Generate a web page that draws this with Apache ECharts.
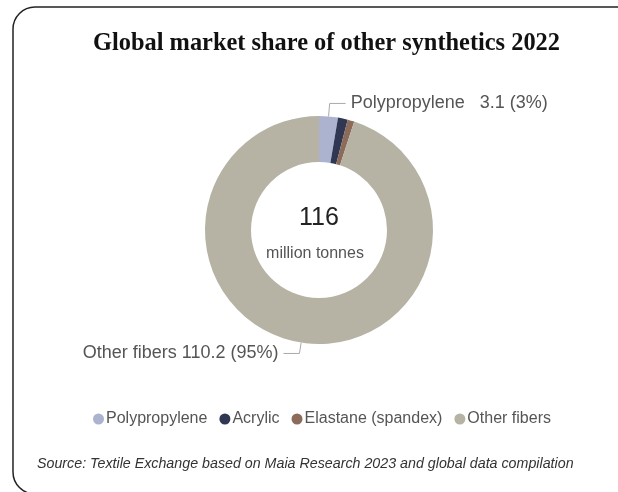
<!DOCTYPE html>
<html>
<head>
<meta charset="utf-8">
<script src="https://cdn.jsdelivr.net/npm/echarts@6/dist/echarts.min.js"></script>
<style>
  html, body { margin: 0; padding: 0; background: #fff; }
  #fiberChart { width: 618px; height: 492px; }
</style>
</head>
<body>
<div id="fiberChart"></div>
<script>
var categories = ['Polypropylene', 'Acrylic', 'Elastane (spandex)', 'Other fibers'];
var values = [3.1, 1.6, 1.1, 110.2];
var colors = ['#abb3cf', '#2f3752', '#8c6b5b', '#b6b3a4'];
var labelled = ['Polypropylene', 'Other fibers'];
var totalText = '116';
var unitText = 'million tonnes';

var fiberChart = echarts.init(document.getElementById('fiberChart'));

var pieData = [];
categories.forEach(function (name, i) {
    var on = labelled.indexOf(name) >= 0;
    var item = {
        name: name,
        value: values[i],
        itemStyle: { color: colors[i] },
        label: { show: on },
        labelLine: { show: on }
    };
    if (name === 'Polypropylene') {
        item.labelLine.length = 13;
        item.labelLine.length2 = 16;
    }
    if (name === 'Other fibers') {
        item.labelLine.length = 11;
        item.labelLine.length2 = 16;
    }
    pieData.push(item);
});

var option = {
    backgroundColor: '#fff',
    title: {
        text: 'Global market share of other synthetics 2022',
        left: 88,
        top: 27,
        textStyle: {
            fontFamily: 'Liberation Serif',
            fontWeight: 'bold',
            fontSize: 24.4,
            color: '#111'
        }
    },
    legend: {
        top: 406,
        left: 88,
        icon: 'circle',
        itemWidth: 11,
        itemHeight: 11,
        itemGap: 12,
        data: categories,
        textStyle: {
            fontFamily: 'Liberation Sans',
            fontSize: 16,
            color: '#555',
            padding: [0, 0, 0, -3]
        }
    },
    graphic: [
        {
            type: 'rect',
            silent: true,
            shape: { x: 13, y: 7, width: 800, height: 487, r: [22, 0, 0, 22] },
            style: { fill: 'none', stroke: '#222', lineWidth: 1.5 }
        },
        {
            type: 'text',
            left: 37,
            top: 457,
            style: {
                text: 'Source: Textile Exchange based on Maia Research 2023 and global data compilation',
                font: 'italic 14.25px "Liberation Sans"',
                fill: '#333'
            }
        },
        {
            type: 'text',
            silent: true,
            style: {
                x: 319,
                y: 218,
                text: totalText,
                align: 'center',
                verticalAlign: 'middle',
                font: '25px "Liberation Sans"',
                fill: '#222'
            }
        },
        {
            type: 'text',
            silent: true,
            style: {
                x: 315,
                y: 254,
                text: unitText,
                align: 'center',
                verticalAlign: 'middle',
                font: '16px "Liberation Sans"',
                fill: '#555'
            }
        }
    ],
    series: [
        {
            name: 'Other synthetics',
            type: 'pie',
            center: [319, 230],
            radius: [68, 114],
            startAngle: 90,
            clockwise: true,
            avoidLabelOverlap: false,
            silent: true,
            label: {
                fontFamily: 'Liberation Sans',
                fontSize: 18,
                color: '#555',
                formatter: function (p) {
                    var pct = Math.round(p.percent) + '%';
                    if (p.name === 'Polypropylene') {
                        return p.name + '   ' + p.value + ' (' + pct + ')';
                    }
                    return p.name + ' ' + p.value + ' (' + pct + ')';
                }
            },
            labelLine: {
                lineStyle: { color: '#aaa', width: 1 }
            },
            data: pieData
        }
    ]
};

fiberChart.setOption(option);
</script>
</body>
</html>
